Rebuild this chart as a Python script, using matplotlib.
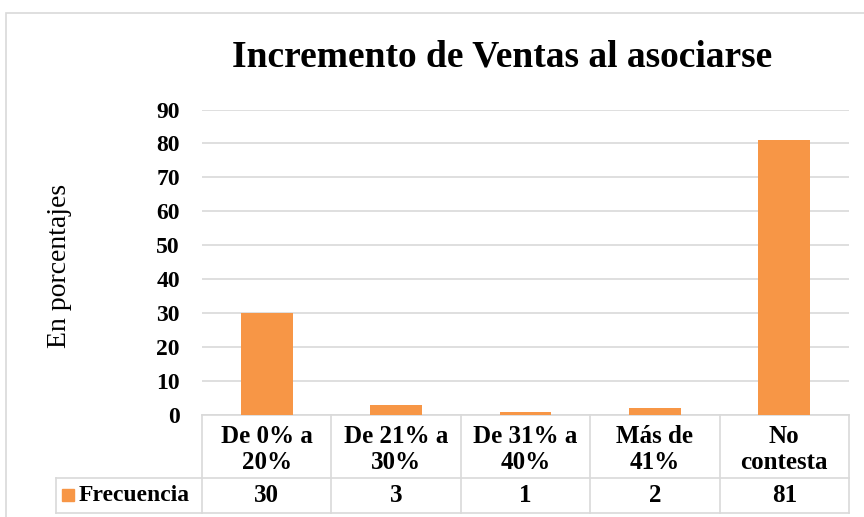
import matplotlib
matplotlib.use('agg')
import matplotlib.pyplot as plt
from matplotlib.patches import Rectangle
from matplotlib.lines import Line2D

plt.rcParams['font.family'] = ['Liberation Serif', 'DejaVu Serif']

categorias = ['De 0% a\n20%', 'De 21% a\n30%', 'De 31% a\n40%', 'Más de\n41%', 'No\ncontesta']
frecuencia = [30, 3, 1, 2, 81]
serie = 'Frecuencia'
titulo = 'Incremento de Ventas al asociarse'
eje_y = 'En porcentajes'

W, H = 864, 517
naranja = '#F79646'
gris = '#D9D9D9'

fig = plt.figure(figsize=(W / 100, H / 100), dpi=100)

def px(x0, y0, x1, y1):
    # caja en pixeles (origen arriba a la izquierda) -> fraccion de figura
    return [x0 / W, 1 - y1 / H, (x1 - x0) / W, (y1 - y0) / H]

# borde del grafico
fig.patches.append(Rectangle((6 / W, -0.1), 1.2, 1 - 13 / H + 0.1, transform=fig.transFigure,
                             fill=False, edgecolor=gris, linewidth=1.2))

x_izq, x_der, y_top, y_cero = 202, 849, 109.5, 415
ax = fig.add_axes(px(x_izq, y_top, x_der, y_cero))
n = len(categorias)
ax.bar(range(n), frecuencia, width=0.4, color=naranja, zorder=3)
ax.set_xlim(-0.5, n - 0.5)
ax.set_ylim(0, 90)
ax.set_yticks(range(0, 91, 10))
ax.yaxis.grid(True, color=gris, linewidth=1.2, zorder=0)
ax.tick_params(axis='y', length=0, pad=16, labelsize=17)
for lbl in ax.get_yticklabels():
    lbl.set_fontweight('bold')
ax.set_xticks([])
for s in ['top', 'right', 'left']:
    ax.spines[s].set_visible(False)
ax.spines['bottom'].set_color(gris)
ax.spines['bottom'].set_linewidth(1.2)

fig.text(502 / W, 1 - 57 / H, titulo, ha='center', va='center', fontsize=27, fontweight='bold')
fig.text(59 / W, 1 - 266 / H, eje_y, ha='center', va='center', rotation=90, fontsize=20)

# tabla de datos
col_w = (x_der - x_izq) / n
x_leg = 56
y_fila, y_fin = 478, 513
tab = fig.add_axes(px(x_leg, y_cero, x_der, y_fin))
x0 = -0.5 - (x_izq - x_leg) / col_w
tab.set_xlim(x0, n - 0.5)
tab.set_ylim(y_fin, y_cero)
tab.axis('off')
lw = 1.2
for i in range(n + 1):
    tab.add_line(Line2D([i - 0.5, i - 0.5], [y_cero, y_fin], color=gris, lw=lw, clip_on=False))
tab.add_line(Line2D([x0, x0], [y_fila, y_fin], color=gris, lw=lw, clip_on=False))
tab.add_line(Line2D([x0, n - 0.5], [y_fila, y_fila], color=gris, lw=lw, clip_on=False))
tab.add_line(Line2D([x0, n - 0.5], [y_fin, y_fin], color=gris, lw=lw, clip_on=False))
for i, (c, v) in enumerate(zip(categorias, frecuencia)):
    tab.text(i, (y_cero + y_fila) / 2 + 3, c, ha='center', va='center', fontsize=18,
             fontweight='bold', linespacing=1.2)
    tab.text(i, (y_fila + y_fin) / 2, str(v), ha='center', va='center', fontsize=18,
             fontweight='bold')
tab.add_patch(Rectangle((x0 + 6 / col_w, (y_fila + y_fin) / 2 - 6), 12 / col_w, 12,
                        color=naranja, clip_on=False))
tab.text(x0 + 23 / col_w, (y_fila + y_fin) / 2, serie, ha='left', va='center',
         fontsize=17, fontweight='bold')

fig.savefig('out.png', dpi=100)
